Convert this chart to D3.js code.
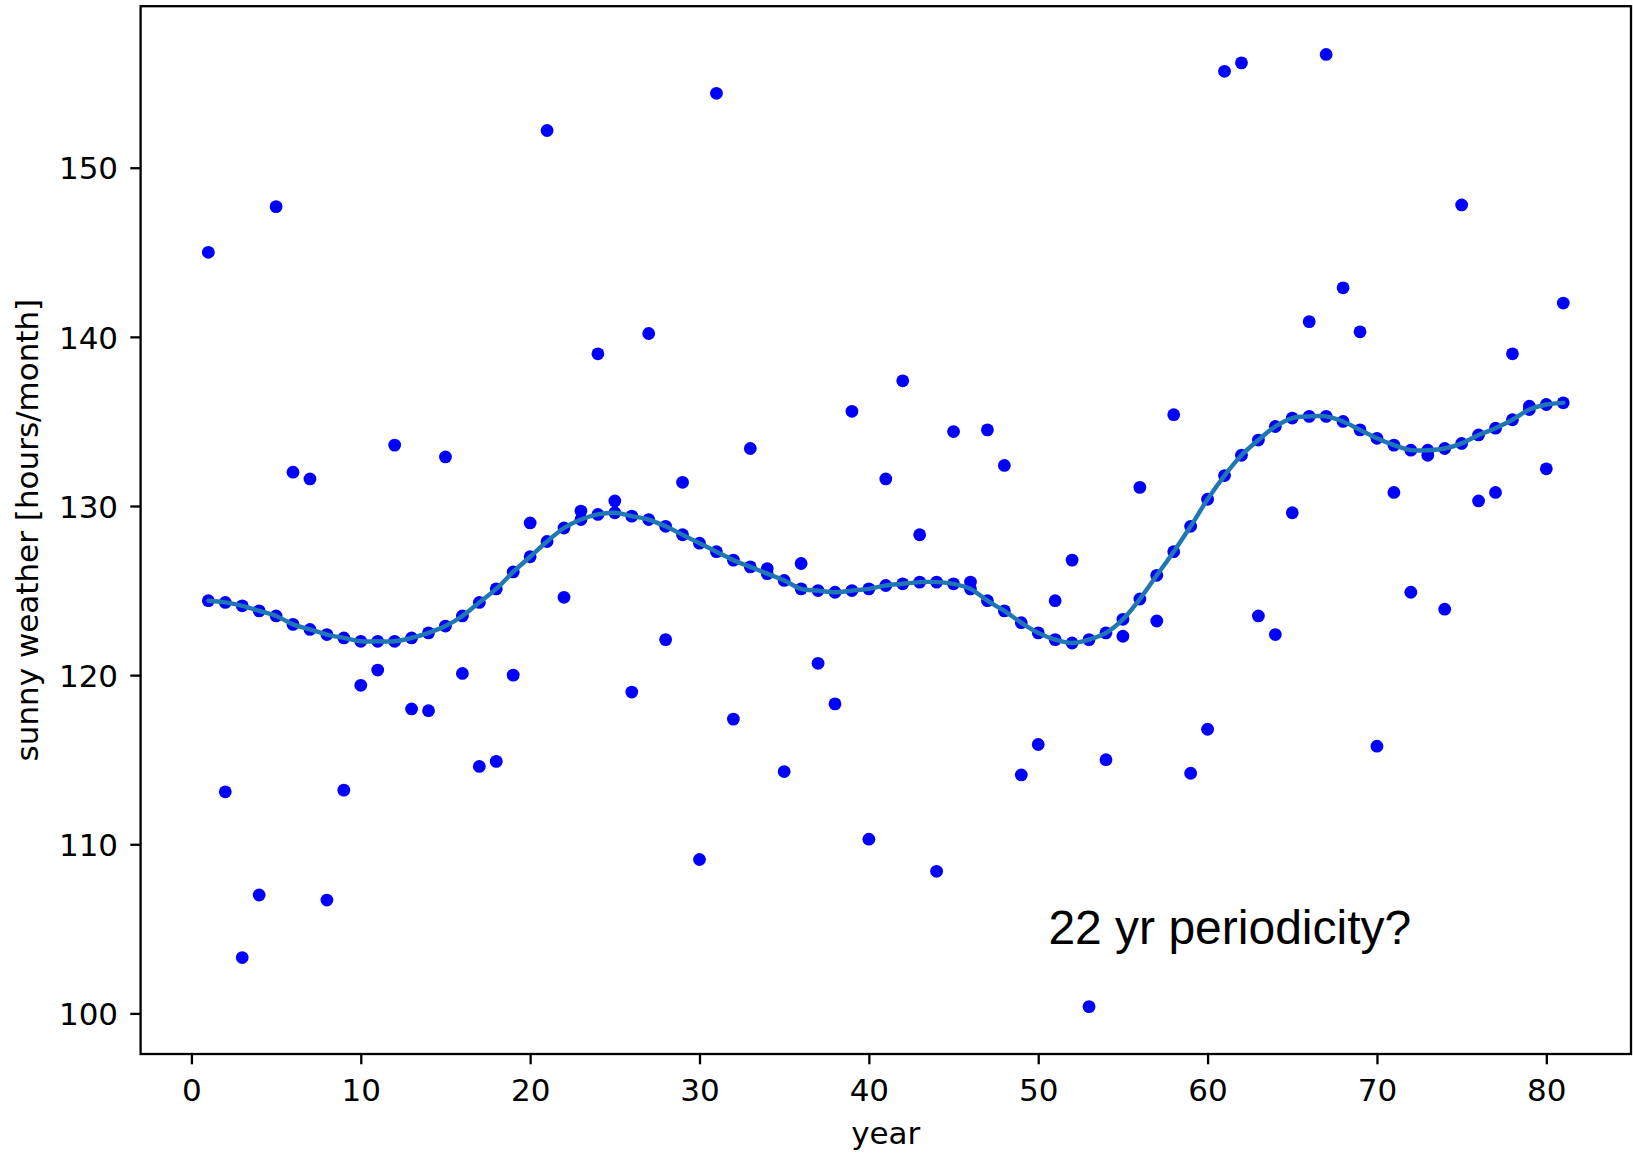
<!DOCTYPE html>
<html>
<head>
<meta charset="utf-8">
<script src="https://cdn.jsdelivr.net/npm/d3@7"></script>
<style>
  html, body { margin: 0; padding: 0; background: #fff; }
  svg { display: block; }
</style>
</head>
<body>
<div id="chart"></div>
<script>
// Years of observation
const years = [
  1, 2, 3, 4, 5, 6, 7, 8, 9, 10,
  11, 12, 13, 14, 15, 16, 17, 18, 19, 20,
  21, 22, 23, 24, 25, 26, 27, 28, 29, 30,
  31, 32, 33, 34, 35, 36, 37, 38, 39, 40,
  41, 42, 43, 44, 45, 46, 47, 48, 49, 50,
  51, 52, 53, 54, 55, 56, 57, 58, 59, 60,
  61, 62, 63, 64, 65, 66, 67, 68, 69, 70,
  71, 72, 73, 74, 75, 76, 77, 78, 79, 80, 81
];

// Measured sunny weather per year (hours/month)
const sunshine = [
  145.0, 113.1, 103.3, 107.0, 147.7, 132.0, 131.6, 106.7, 113.2, 119.4,
  120.3, 133.6, 118.0, 117.9, 132.9, 120.1, 114.6, 114.9, 120.0, 129.0,
  152.2, 124.6, 129.7, 139.0, 130.3, 119.0, 140.2, 122.1, 131.4, 109.1,
  154.4, 117.4, 133.4, 126.3, 114.3, 126.6, 120.7, 118.3, 135.6, 110.3,
  131.6, 137.4, 128.3, 108.4, 134.4, 125.5, 134.5, 132.4, 114.1, 115.9,
  124.4, 126.8, 100.4, 115.0, 122.3, 131.1, 123.2, 135.4, 114.2, 116.8,
  155.7, 156.2, 123.5, 122.4, 129.6, 140.9, 156.7, 142.9, 140.3, 115.8,
  130.8, 124.9, 133.0, 123.9, 147.8, 130.3, 130.8, 139.0, 135.9, 132.2, 142.0
];

// Smoothed sunny weather per year (hours/month)
const smoothed = [
  124.4, 124.3, 124.1, 123.8, 123.5, 123.0, 122.7, 122.4, 122.2, 122.0,
  122.0, 122.0, 122.2, 122.5, 122.9, 123.5, 124.3, 125.1, 126.1, 127.0,
  127.9, 128.7, 129.2, 129.5, 129.6, 129.4, 129.2, 128.8, 128.3, 127.8,
  127.3, 126.8, 126.4, 126.0, 125.6, 125.1, 125.0, 124.9, 125.0, 125.1,
  125.3, 125.4, 125.5, 125.5, 125.4, 125.1, 124.4, 123.8, 123.1, 122.5,
  122.1, 121.9, 122.1, 122.5, 123.3, 124.5, 125.9, 127.3, 128.8, 130.4,
  131.8, 133.0, 133.9, 134.7, 135.2, 135.3, 135.3, 135.0, 134.5, 134.0,
  133.6, 133.3, 133.3, 133.4, 133.7, 134.2, 134.6, 135.1, 135.7, 136.0, 136.1
];

const xTicks = [0, 10, 20, 30, 40, 50, 60, 70, 80];
const yTicks = [100, 110, 120, 130, 140, 150];

const xDomain = [-3, 85];
const yDomain = [97.6, 159.55];

const annotation = { text: "22 yr periodicity?", year: 50.6, value: 104.1 };

const W = 1633, H = 1155;
const plot = { left: 140.6, right: 1631, top: 6.2, bottom: 1054 };
const tickFont = "'DejaVu Sans', sans-serif";
const fontPx = 31;

const svg = d3.select("#chart").append("svg")
  .attr("width", W).attr("height", H)
  .style("background", "#fff");

const x = d3.scaleLinear().domain(xDomain).range([plot.left, plot.right]);
const y = d3.scaleLinear().domain(yDomain).range([plot.bottom, plot.top]);

// Raw yearly values
svg.append("g")
  .selectAll("circle")
  .data(years.map((yr, i) => ({ yr, v: sunshine[i] })))
  .join("circle")
  .attr("cx", d => x(d.yr))
  .attr("cy", d => y(d.v))
  .attr("r", 6.4)
  .attr("fill", "#0000ff");

// Smoothed values as dots
svg.append("g")
  .selectAll("circle")
  .data(years.map((yr, i) => ({ yr, v: smoothed[i] })))
  .join("circle")
  .attr("cx", d => x(d.yr))
  .attr("cy", d => y(d.v))
  .attr("r", 6.4)
  .attr("fill", "#0000ff");

// Smoothed curve
const line = d3.line()
  .x((d, i) => x(years[i]))
  .y(d => y(d))
  .curve(d3.curveCatmullRom);

svg.append("path")
  .datum(smoothed)
  .attr("d", line)
  .attr("fill", "none")
  .attr("stroke", "#1f77b4")
  .attr("stroke-width", 4.4)
  .attr("stroke-linejoin", "round")
  .attr("stroke-linecap", "round");

// Axes frame
svg.append("rect")
  .attr("x", plot.left).attr("y", plot.top)
  .attr("width", plot.right - plot.left)
  .attr("height", plot.bottom - plot.top)
  .attr("fill", "none")
  .attr("stroke", "#000")
  .attr("stroke-width", 2.3);

// Bottom axis
const gx = svg.append("g")
  .attr("transform", `translate(0,${plot.bottom})`)
  .call(d3.axisBottom(x).tickValues(xTicks).tickSize(10.3).tickFormat(d3.format("d")));
gx.select(".domain").remove();
gx.selectAll(".tick line").attr("stroke", "#000").attr("stroke-width", 2.3);
gx.selectAll(".tick text")
  .attr("y", 47).attr("dy", "0")
  .attr("fill", "#000")
  .style("font-family", tickFont)
  .style("font-size", fontPx + "px");

// Left axis
const gy = svg.append("g")
  .attr("transform", `translate(${plot.left},0)`)
  .call(d3.axisLeft(y).tickValues(yTicks).tickSize(10.3).tickFormat(d3.format("d")));
gy.select(".domain").remove();
gy.selectAll(".tick line").attr("stroke", "#000").attr("stroke-width", 2.3);
gy.selectAll(".tick text")
  .attr("x", -22.5).attr("dy", "0.36em")
  .attr("fill", "#000")
  .style("font-family", tickFont)
  .style("font-size", fontPx + "px");

// Axis titles
svg.append("text")
  .attr("x", (plot.left + plot.right) / 2)
  .attr("y", 1144)
  .attr("text-anchor", "middle")
  .style("font-family", tickFont)
  .style("font-size", fontPx + "px")
  .text("year");

svg.append("text")
  .attr("transform", `translate(38,${(plot.top + plot.bottom) / 2}) rotate(-90)`)
  .attr("text-anchor", "middle")
  .style("font-family", tickFont)
  .style("font-size", fontPx + "px")
  .text("sunny weather [hours/month]");

// Annotation
svg.append("text")
  .attr("x", x(annotation.year))
  .attr("y", y(annotation.value))
  .style("font-family", "'Liberation Sans', Arial, Helvetica, sans-serif")
  .style("font-size", "48px")
  .attr("fill", "#000")
  .text(annotation.text);
</script>
</body>
</html>
